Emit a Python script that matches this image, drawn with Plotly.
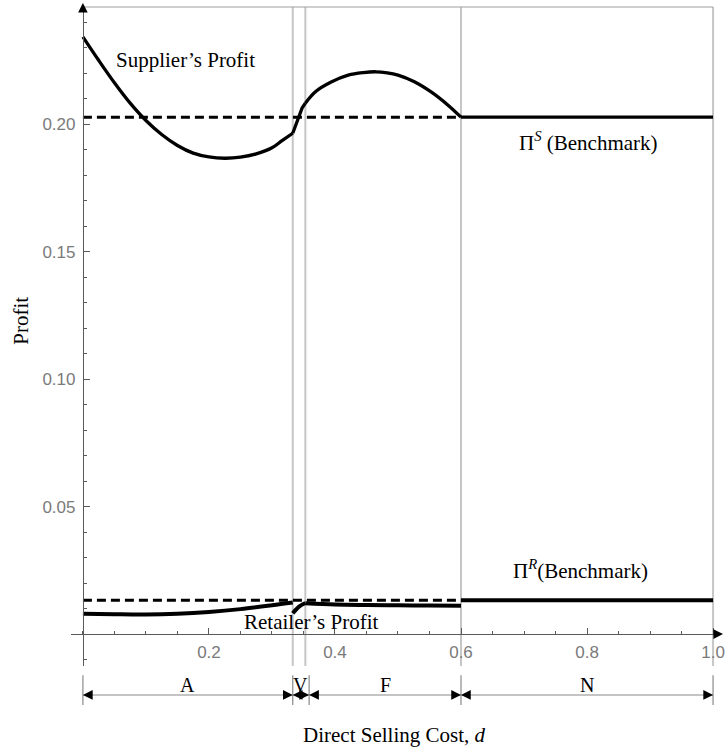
import plotly.graph_objects as go

# ---------------- data ----------------
# Supplier's profit, by region of the direct selling cost d
sup_A_d = [0.0, 0.025, 0.05, 0.075, 0.10, 0.125, 0.15, 0.175, 0.20, 0.225, 0.25, 0.275, 0.30, 0.316, 0.333]
sup_A_v = [0.2342, 0.2250, 0.2162, 0.2082, 0.2014, 0.1959, 0.1916, 0.1886, 0.1871, 0.1866, 0.1870, 0.1883, 0.1907, 0.1935, 0.1964]
sup_V_d = [0.333, 0.338, 0.343, 0.348, 0.353]
sup_V_v = [0.1964, 0.1996, 0.2035, 0.2064, 0.2082]
sup_F_d = [0.353, 0.369, 0.394, 0.421, 0.445, 0.465, 0.483, 0.500, 0.526, 0.552, 0.579, 0.600]
sup_F_v = [0.2082, 0.2127, 0.2165, 0.2192, 0.2202, 0.2205, 0.2201, 0.2192, 0.2166, 0.2127, 0.2075, 0.2027]
sup_N_d = [0.600, 1.0]
sup_N_v = [0.2027, 0.2027]

# Retailer's profit
ret_A_d = [0.0, 0.05, 0.10, 0.15, 0.20, 0.25, 0.30, 0.333]
ret_A_v = [0.0080, 0.0078, 0.0077, 0.0080, 0.0087, 0.0098, 0.0113, 0.0124]
ret_V_d = [0.333, 0.343, 0.353]
ret_V_v = [0.0082, 0.0108, 0.0122]
ret_F_d = [0.353, 0.40, 0.45, 0.50, 0.55, 0.60]
ret_F_v = [0.0121, 0.0116, 0.0114, 0.0113, 0.0112, 0.0111]
ret_N_d = [0.600, 1.0]
ret_N_v = [0.0133, 0.0133]

# Benchmarks (dashed)
bench_d = [0.0, 0.600]
bench_S = [0.2027, 0.2027]
bench_R = [0.0133, 0.0133]

# Regime boundaries (gray lines) and region arrows
regime_lines = [0.333, 0.353, 0.600, 1.0]
region_bounds = [0.0, 0.333, 0.359, 0.600, 1.0]
region_labels = ["A", "V", "F", "N"]

x_tickvals = [0.2, 0.4, 0.6, 0.8, 1.0]
x_ticktext = ["0.2", "0.4", "0.6", "0.8", "1.0"]
y_tickvals = [0.05, 0.10, 0.15, 0.20]
y_ticktext = ["0.05", "0.10", "0.15", "0.20"]

# ---------------- figure ----------------
XR = [-0.0189, 1.0126]
YR = [-0.0125, 0.2459]
SERIF = "Liberation Serif"
AXC = "#5a5a5a"

fig = go.Figure()

# gray regime lines
for xv in regime_lines:
    fig.add_shape(type="line", xref="x", yref="paper", x0=xv, x1=xv, y0=0, y1=1,
                  line=dict(color="#c6c6c6", width=2), layer="below")
# top frame line
fig.add_shape(type="line", xref="x", yref="paper", x0=0, x1=regime_lines[-1], y0=1, y1=1,
              line=dict(color="#a0a0a0", width=1.2), layer="below")

# benchmarks
for bv in (bench_S, bench_R):
    fig.add_trace(go.Scatter(x=bench_d, y=bv, mode="lines",
                             line=dict(color="black", width=3, dash="9px,5px"), showlegend=False))

# supplier curve segments
for dd, vv, shp in [(sup_A_d, sup_A_v, "spline"), (sup_V_d, sup_V_v, "linear"),
                    (sup_F_d, sup_F_v, "spline"), (sup_N_d, sup_N_v, "linear")]:
    fig.add_trace(go.Scatter(x=dd, y=vv, mode="lines",
                             line=dict(color="black", width=3.3, shape=shp),
                             showlegend=False))

# retailer segments
for dd, vv in [(ret_A_d, ret_A_v), (ret_V_d, ret_V_v), (ret_F_d, ret_F_v), (ret_N_d, ret_N_v)]:
    fig.add_trace(go.Scatter(x=dd, y=vv, mode="lines", line=dict(color="black", width=4, shape="spline"),
                             showlegend=False))

# text labels
lab_font = dict(family=SERIF, size=21, color="black")
fig.add_annotation(x=0.05, y=0.2251, xref="x", yref="y", text="Supplier\u2019s Profit",
                   showarrow=False, xanchor="left", font=lab_font)
fig.add_annotation(x=0.803, y=0.193, xref="x", yref="y", text="\u03a0<sup><i>S</i></sup> (Benchmark)",
                   showarrow=False, font=lab_font)
fig.add_annotation(x=0.79, y=0.0255, xref="x", yref="y", text="\u03a0<sup><i>R</i></sup>(Benchmark)",
                   showarrow=False, font=lab_font)
fig.add_annotation(x=0.363, y=0.0047, xref="x", yref="y", text="Retailer\u2019s Profit",
                   showarrow=False, font=lab_font)
fig.add_annotation(x=0.497, y=-0.126, xref="paper", yref="paper", text="Direct Selling Cost, <i>d</i>",
                   showarrow=False, font=lab_font)
fig.add_annotation(x=-0.098, y=0.123, xref="paper", yref="y", text="Profit", textangle=-90,
                   showarrow=False, font=lab_font)

# axis arrows
fig.add_annotation(x=XR[1], y=0, xref="x", yref="y", ax=-10, ay=0, axref="pixel", ayref="pixel",
                   text="", showarrow=True, arrowhead=2, arrowsize=1.6, arrowwidth=1.2,
                   arrowcolor="black", standoff=0, xshift=2)
fig.add_annotation(x=0, y=YR[1], xref="x", yref="y", ax=0, ay=10, axref="pixel", ayref="pixel",
                   text="", showarrow=True, arrowhead=2, arrowsize=1.6, arrowwidth=1.2,
                   arrowcolor="black", standoff=0, yshift=4)

# region arrows below the axis
ARROW_Y = -0.044
for i, lab in enumerate(region_labels):
    a, b = region_bounds[i], region_bounds[i + 1]
    fig.add_shape(type="line", xref="x", yref="paper", x0=a, x1=b, y0=ARROW_Y, y1=ARROW_Y,
                  line=dict(color="#8a8a8a", width=1.2))
    fig.add_annotation(x=b, y=ARROW_Y, xref="x", yref="paper", ax=-7, ay=0, axref="pixel", ayref="pixel",
                       text="", showarrow=True, arrowhead=2, arrowsize=1.5, arrowwidth=1.3,
                       arrowcolor="black", standoff=0)
    fig.add_annotation(x=a, y=ARROW_Y, xref="x", yref="paper", ax=7, ay=0, axref="pixel", ayref="pixel",
                       text="", showarrow=True, arrowhead=2, arrowsize=1.5, arrowwidth=1.3,
                       arrowcolor="black", standoff=0)
    fig.add_annotation(x=(a + b) / 2, y=ARROW_Y, xref="x", yref="paper", text=lab, showarrow=False,
                       yanchor="bottom", yshift=-3, font=dict(family=SERIF, size=20, color="black"))
for xv in region_bounds:
    fig.add_shape(type="line", xref="x", yref="paper", x0=xv, x1=xv, y0=-0.014, y1=-0.059,
                  line=dict(color="#8a8a8a", width=1.2))

tick_font = dict(family="Liberation Sans", size=17, color="#7a7a7a")
fig.update_layout(
    width=728, height=748,
    margin=dict(l=71, r=3, t=7, b=82),
    plot_bgcolor="white", paper_bgcolor="white",
    xaxis=dict(range=XR, anchor="free", position=(0 - YR[0]) / (YR[1] - YR[0]),
               showgrid=False, zeroline=False, showline=True, linecolor=AXC, linewidth=1,
               ticks="inside", ticklen=6, tickcolor=AXC, tickwidth=1,
               tickmode="array", tickvals=x_tickvals, ticktext=x_ticktext, tickfont=tick_font,
               ticklabelstandoff=2, ticklabeloverflow="allow",
               minor=dict(ticks="inside", tickmode="linear", tick0=0, dtick=0.05, ticklen=3,
                          tickcolor=AXC, tickwidth=1)),
    yaxis=dict(range=YR, anchor="free", position=(0 - XR[0]) / (XR[1] - XR[0]),
               showgrid=False, zeroline=False, showline=True, linecolor=AXC, linewidth=1,
               ticks="inside", ticklen=6, tickcolor=AXC, tickwidth=1,
               tickmode="array", tickvals=y_tickvals, ticktext=y_ticktext, tickfont=tick_font,
               ticklabelstandoff=4,
               minor=dict(ticks="inside", tickmode="linear", tick0=0, dtick=0.01, ticklen=3,
                          tickcolor=AXC, tickwidth=1)),
)

fig.write_html("out.html", config={"displayModeBar": False},
               post_script="document.body.style.margin='0';document.body.style.overflow='hidden';")
